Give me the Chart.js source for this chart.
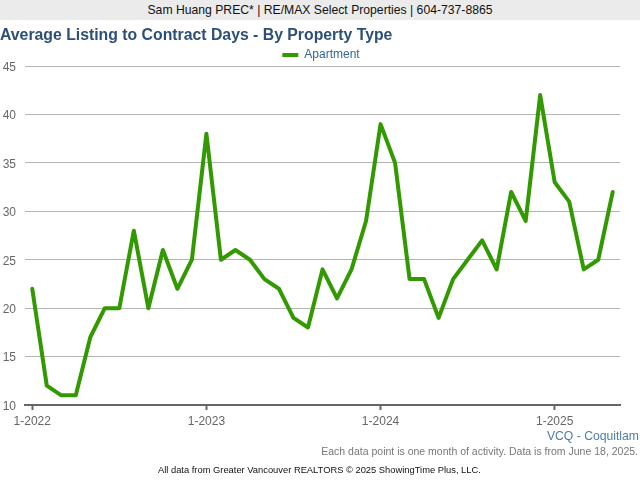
<!DOCTYPE html>
<html>
<head>
<meta charset="utf-8">
<style>
  html, body { margin: 0; padding: 0; background: #fff; }
  body { width: 640px; height: 480px; position: relative; overflow: hidden; font-family: "Liberation Sans", sans-serif; }
  #wrap { position: absolute; left: 0; top: 0; width: 640px; height: 480px; }
  .txt { position: absolute; white-space: nowrap; }
  #banner { left: 0; top: 0; width: 640px; height: 20px; line-height: 21px; background: #ebebeb; color: #111; font-size: 12.2px; text-align: center; }
  #title { left: 0; top: 25px; font-size: 15.8px; font-weight: bold; color: #2c4f78; line-height: 20px; }
  #area { right: 1px; top: 428px; font-size: 12.2px; color: #4f7cac; line-height: 16px; }
  #note { right: 2px; top: 444px; font-size: 10.5px; color: #777; line-height: 14px; }
  #source { left: 158px; top: 463px; font-size: 9.35px; color: #111; line-height: 14px; }
</style>
</head>
<body>
<div id="wrap"><canvas id="mycanvas" width="640" height="480"></canvas></div>
<div class="txt" id="banner">Sam Huang PREC* | RE/MAX Select Properties | 604-737-8865</div>
<div class="txt" id="title">Average Listing to Contract Days - By Property Type</div>
<div class="txt" id="area">VCQ - Coquitlam</div>
<div class="txt" id="note">Each data point is one month of activity. Data is from June 18, 2025.</div>
<div class="txt" id="source">All data from Greater Vancouver REALTORS © 2025 ShowingTime Plus, LLC.</div>
<script src="https://cdn.jsdelivr.net/npm/chart.js@4/dist/chart.umd.min.js"></script>
<script>
const months = [
  '1-2022', '2-2022', '3-2022', '4-2022', '5-2022', '6-2022', '7-2022', '8-2022', '9-2022', '10-2022', '11-2022', '12-2022',
  '1-2023', '2-2023', '3-2023', '4-2023', '5-2023', '6-2023', '7-2023', '8-2023', '9-2023', '10-2023', '11-2023', '12-2023',
  '1-2024', '2-2024', '3-2024', '4-2024', '5-2024', '6-2024', '7-2024', '8-2024', '9-2024', '10-2024', '11-2024', '12-2024',
  '1-2025', '2-2025', '3-2025', '4-2025', '5-2025'
];
const apartment = [
  22, 12, 11, 11, 17, 20, 20, 28, 20, 26, 22, 25,
  38, 25, 26, 25, 23, 22, 19, 18, 24, 21, 24, 29,
  39, 35, 23, 23, 19, 23, 25, 27, 24, 32, 29, 42,
  33, 31, 24, 25, 32
];
const yTicks = [10, 15, 20, 25, 30, 35, 40, 45];

Chart.defaults.font.family = '"Liberation Sans", sans-serif';
Chart.defaults.font.size = 12;

// 凡例の高さが最低22pxあるので、レイアウト後に文字だけ下げる
// y軸の数字も元画像に合わせて少し下げる
const nudgeText = {
  id: 'nudgeText',
  afterLayout: chart => {
    chart.legend.top += 5;
    chart.legend.bottom += 5;
  },
  beforeDraw: chart => {
    chart.scales.y.getLabelItems().forEach(item => { item.options.translation[1] += 1.5; });
  }
};

const ctx = document.querySelector('#mycanvas').getContext('2d');
const myChart = new Chart(ctx, {
  type: 'line',
  data: {
    labels: months,
    datasets: [{
      label: 'Apartment',
      data: apartment,
      borderColor: '#339900',
      backgroundColor: '#339900',
      borderWidth: 4,
      borderJoinStyle: 'round',
      borderCapStyle: 'round',
      pointRadius: 0,
      tension: 0,
      clip: false
    }]
  },
  plugins: [nudgeText],
  options: {
    responsive: false,
    animation: false,
    layout: { padding: { top: 44, right: 0, bottom: 0, left: 2 } },
    plugins: {
      tooltip: { enabled: false },
      legend: {
        position: 'top',
        labels: {
          color: '#336699',
          boxWidth: 16,
          boxHeight: 4,
          padding: 0,
          font: { size: 12 },
          // 凡例の枠線は消す
          generateLabels: chart => Chart.defaults.plugins.legend.labels.generateLabels(chart).map(item => ({ ...item, lineWidth: 0 }))
        }
      }
    },
    scales: {
      x: {
        type: 'category',
        offset: true,
        afterFit: scale => {
          scale.height = 75;
          scale.paddingRight = 20;
          scale.paddingLeft = 0;
        },
        afterBuildTicks: scale => {
          // 1月だけ目盛りを残す
          scale.ticks = scale.ticks.filter(t => months[t.value].startsWith('1-'));
        },
        border: { color: '#666666', width: 2 },
        grid: { offset: false, drawOnChartArea: false, color: '#666666', tickLength: 5, tickWidth: 2 },
        ticks: { color: '#666666', autoSkip: false, maxRotation: 0, padding: 4, font: { size: 12 } }
      },
      y: {
        min: 10,
        max: 45,
        afterFit: scale => {
          scale.width = 23;
          scale.paddingTop = 0;
          scale.paddingBottom = 0;
        },
        afterBuildTicks: scale => { scale.ticks = yTicks.map(v => ({ value: v })); },
        border: { display: false },
        grid: { color: '#b3b3b3', lineWidth: 1, drawTicks: false },
        ticks: { color: '#666666', padding: 9, font: { size: 12 } }
      }
    }
  }
});
</script>
</body>
</html>
